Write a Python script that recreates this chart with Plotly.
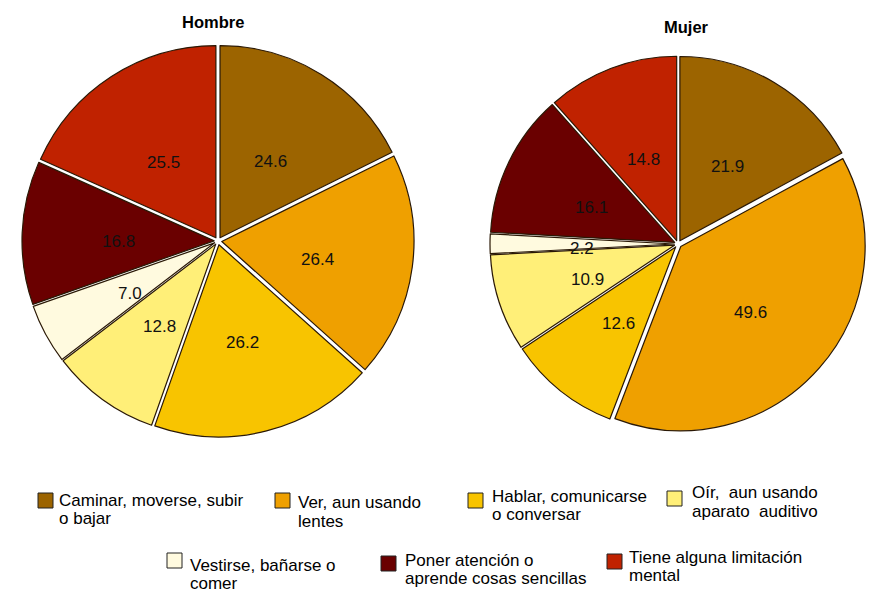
import math
import plotly.graph_objects as go

# Categories and percentages by sex
categories = [
    ["Caminar, moverse, subir", "o bajar"],
    ["Ver, aun usando", "lentes"],
    ["Hablar, comunicarse", "o conversar"],
    ["Oír,  aun usando", "aparato  auditivo"],
    ["Vestirse, bañarse o", "comer"],
    ["Poner atención o", "aprende cosas sencillas"],
    ["Tiene alguna limitación", "mental"],
]
hombre = [24.6, 26.4, 26.2, 12.8, 7.0, 16.8, 25.5]
mujer = [21.9, 49.6, 12.6, 10.9, 2.2, 16.1, 14.8]

colors = ["#9C6400", "#EFA000", "#F8C400", "#FFEF78", "#FFFADF", "#6A0000", "#C02200"]

W, H = 869, 597
FONT = "Liberation Sans, Arial, sans-serif"
PULL = 0.02
LABEL_R = 0.5  # label distance from the apex, as a fraction of the radius

labels = [" ".join(c) for c in categories]

fig = go.Figure()

# (values, centre x, centre y, outer domain radius) in pixels
pies = [
    (hombre, 218, 241, 196),
    (mujer, 678, 244, 188),
]

for vals, cx, cy, rd in pies:
    fig.add_trace(go.Pie(
        values=vals,
        labels=labels,
        sort=False,
        direction="clockwise",
        rotation=0,
        pull=PULL,
        marker=dict(colors=colors, line=dict(color="#2a1805", width=1.2)),
        textinfo="none",
        domain=dict(x=[(cx - rd) / W, (cx + rd) / W],
                    y=[1 - (cy + rd) / H, 1 - (cy - rd) / H]),
        showlegend=False,
        hoverinfo="label+value",
    ))

    # value labels placed along each slice's bisector
    r = rd / (1 + PULL)
    total = sum(vals)
    cum = 0.0
    for v in vals:
        mid = (cum + v / 2) / total * 2 * math.pi
        cum += v
        dist = (LABEL_R + PULL) * r
        px = cx + dist * math.sin(mid)
        py = cy - dist * math.cos(mid)
        fig.add_annotation(x=px / W, y=1 - py / H, xref="paper", yref="paper",
                           text=f"{v:.1f}", showarrow=False,
                           xanchor="center", yanchor="middle", yshift=-5,
                           font=dict(family=FONT, size=17, color="#111111"))

# Pie titles
for text, tx, ty in [("Hombre", 213, 22), ("Mujer", 686, 27)]:
    fig.add_annotation(x=tx / W, y=1 - ty / H, xref="paper", yref="paper",
                       text=f"<b>{text}</b>", showarrow=False,
                       xanchor="center", yanchor="middle",
                       font=dict(family=FONT, size=16.5, color="black"))

# Legend: swatch (left, top), text left edge, first-line centre y (pixels)
legend_pos = [
    (38, 493, 57, 500),
    (275, 493, 296, 503),
    (468, 493, 490, 496),
    (667, 491, 690, 493),
    (167, 553, 188, 565),
    (381, 556, 403, 560),
    (607, 554, 627, 557),
]
LINE_GAP = 18
for (sx, sy, tx, ty), col, lines in zip(legend_pos, colors, categories):
    fig.add_shape(type="rect", xref="paper", yref="paper",
                  x0=sx / W, x1=(sx + 15) / W, y0=1 - (sy + 15) / H, y1=1 - sy / H,
                  fillcolor=col, line=dict(color="#222222", width=1))
    for i, line in enumerate(lines):
        fig.add_annotation(x=tx / W, y=1 - (ty + i * LINE_GAP) / H,
                           xref="paper", yref="paper",
                           text=line, showarrow=False,
                           xanchor="left", yanchor="middle", align="left",
                           font=dict(family=FONT, size=17, color="black"))

fig.update_layout(
    width=W, height=H,
    margin=dict(l=0, r=0, t=0, b=0),
    paper_bgcolor="white",
    plot_bgcolor="white",
)

fig.write_html("out.html")
